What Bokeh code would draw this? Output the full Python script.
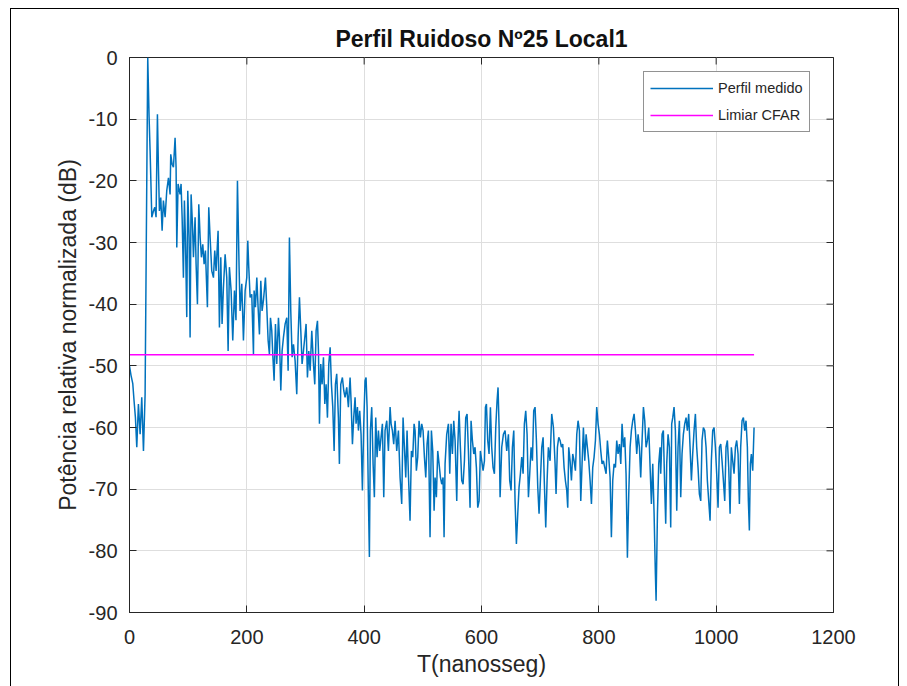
import math

from bokeh.plotting import figure
from bokeh.models import (FixedTicker, Range1d, Legend, LegendItem,
                          PrintfTickFormatter, InlineStyleSheet)
from bokeh.embed import file_html
from bokeh.resources import INLINE

# Measured power-delay profile (time in ns, relative power in dB)
t_ns = [
    0.0, 2.5, 5.6, 7.8, 10.1, 12.4, 15.2, 18.1, 20.9, 23.8, 26.6, 31.1, 33.4, 35.1,
    38.0, 40.8, 43.1, 45.3, 47.6, 49.3, 51.0, 53.3, 55.6, 57.8, 60.7, 63.5, 66.4,
    69.2, 70.3, 72.6, 74.9, 77.7, 79.4, 80.6, 82.8, 86.2, 87.9, 89.7, 91.9, 93.6,
    95.3, 97.6, 99.3, 101.6, 103.3, 105.0, 107.3, 109.0, 111.8, 113.5, 115.8, 118.1,
    120.4, 122.6, 124.9, 127.2, 129.4, 132.8, 135.1, 137.4, 140.2, 143.1, 145.3,
    147.6, 151.0, 153.3, 155.6, 157.8, 160.1, 163.0, 165.8, 168.1, 170.3, 173.2,
    176.0, 178.9, 181.5, 184.0, 186.8, 188.5, 191.4, 194.2, 197.1, 199.9, 201.6,
    203.3, 205.6, 208.4, 211.3, 212.4, 214.7, 217.0, 219.2, 221.5, 223.8, 226.0,
    228.3, 231.7, 234.0, 236.3, 238.5, 240.3, 242.5, 244.2, 246.5, 248.8, 251.0,
    253.9, 255.6, 257.9, 260.1, 262.4, 265.3, 268.1, 270.4, 272.6, 274.9, 277.2,
    279.5, 282.3, 285.1, 287.4, 289.7, 292.0, 294.2, 296.5, 298.8, 301.0, 303.3,
    305.6, 307.9, 310.7, 313.6, 315.8, 318.1, 320.4, 322.1, 323.8, 326.0, 328.3,
    330.6, 332.9, 335.1, 337.4, 339.7, 342.0, 344.2, 346.5, 348.8, 351.0, 353.2,
    356.1, 357.8, 360.1, 362.9, 365.2, 367.4, 370.3, 373.1, 376.0, 377.7, 380.0,
    382.2, 384.5, 386.2, 388.5, 390.2, 392.4, 394.7, 397.0, 399.3, 401.5, 403.2,
    405.0, 407.2, 408.9, 410.6, 412.9, 415.2, 417.4, 419.7, 422.0, 424.3, 426.5,
    428.8, 431.1, 433.4, 435.6, 438.5, 441.3, 444.2, 445.9, 448.1, 450.4, 452.7,
    455.5, 458.4, 461.2, 464.0, 466.3, 468.6, 470.9, 473.1, 475.4, 478.2, 480.5,
    482.8, 485.1, 486.8, 489.0, 491.3, 493.6, 495.9, 498.1, 500.4, 502.7, 505.0,
    507.2, 509.5, 512.3, 514.6, 516.9, 519.2, 520.9, 523.1, 525.4, 527.7, 530.0,
    532.2, 534.5, 536.2, 537.9, 540.7, 543.6, 545.9, 548.1, 550.4, 552.7, 555.0,
    557.8, 559.5, 561.8, 564.0, 566.3, 568.6, 570.9, 573.1, 575.4, 577.7, 580.5,
    582.2, 584.5, 586.8, 589.0, 591.3, 593.6, 595.9, 598.1, 600.4, 602.7, 605.0,
    606.7, 608.4, 610.6, 612.9, 615.2, 617.4, 619.7, 622.0, 624.3, 626.5, 628.2,
    630.0, 631.7, 634.5, 637.3, 640.2, 643.0, 645.9, 648.1, 650.4, 652.7, 655.0,
    657.2, 659.5, 661.8, 664.0, 666.3, 668.6, 670.9, 673.1, 675.4, 677.7, 680.0,
    682.2, 684.5, 686.8, 689.0, 691.3, 693.6, 695.9, 698.1, 700.4, 702.7, 705.0,
    707.2, 709.5, 711.8, 714.0, 716.9, 719.7, 722.6, 725.4, 727.1, 729.4, 731.7,
    734.0, 736.2, 738.5, 740.8, 743.0, 745.3, 747.0, 748.7, 751.0, 753.3, 755.5,
    757.8, 760.1, 762.4, 764.6, 766.9, 769.2, 771.4, 773.7, 776.0, 778.3, 780.5,
    782.8, 785.1, 787.4, 789.6, 791.9, 794.2, 796.4, 798.7, 801.0, 803.3, 805.5,
    807.8, 810.1, 812.4, 814.6, 816.9, 819.2, 821.4, 823.7, 826.0, 828.3, 830.5,
    832.8, 835.1, 837.4, 839.6, 841.9, 844.2, 846.4, 848.7, 851.0, 853.3, 855.5,
    857.8, 860.1, 862.4, 864.6, 866.9, 869.2, 871.4, 873.7, 876.0, 878.3, 880.5,
    882.8, 885.1, 887.4, 889.6, 891.9, 894.2, 896.4, 897.6, 899.9, 902.1, 904.4,
    905.5, 907.8, 910.0, 912.3, 914.0, 915.7, 918.0, 920.3, 922.5, 924.2, 926.0,
    928.2, 930.5, 932.8, 935.0, 937.3, 939.6, 941.8, 944.1, 946.4, 948.7, 950.9,
    953.2, 955.5, 957.8, 960.0, 962.3, 964.6, 966.8, 969.1, 971.4, 973.7, 975.9,
    978.2, 980.5, 982.8, 985.0, 987.3, 989.6, 991.8, 994.1, 996.4, 998.7, 1000.9,
    1003.2, 1005.5, 1007.8, 1010.0, 1012.3, 1014.6, 1016.8, 1019.1, 1021.4, 1023.7,
    1025.9, 1028.2, 1030.5, 1032.8, 1035.0, 1037.3, 1039.6, 1041.8, 1044.1, 1046.4,
    1048.7, 1050.9, 1053.2, 1054.9, 1056.6, 1058.3, 1060.0, 1062.3, 1064.6,
]
perfil_db = [
    -50.0, -51.5, -52.9, -55.7, -58.4, -63.2, -56.2, -61.1, -55.1, -63.8, -54.6, 0.0, -9.7, -15.1,
    -25.9, -24.9, -24.3, -25.9, -9.2, -17.8, -24.9, -22.7, -28.1, -23.2, -25.9, -21.6, -19.5,
    -22.2, -15.7, -17.3, -17.8, -13.0, -17.8, -30.8, -20.5, -22.2, -20.5, -25.9, -35.7, -23.2,
    -29.2, -42.1, -21.6, -29.2, -45.4, -22.2, -27.0, -32.4, -25.9, -33.5, -40.0, -23.8,
    -29.2, -32.4, -30.3, -33.5, -31.3, -40.5, -24.3, -29.2, -34.6, -35.7, -31.3,
    -34.6, -28.1, -43.8, -32.4, -43.2, -37.3, -31.9, -35.7, -47.6, -34.0, -37.8,
    -45.9, -37.8, -42.6, -20.0, -34.0, -41.1, -36.7, -45.9, -37.8, -35.7, -29.7,
    -34.0, -38.9, -38.4, -48.1, -37.8, -40.5, -35.7, -40.5, -44.9, -36.2, -41.1,
    -39.4, -35.7, -40.5, -45.9, -48.1, -42.2, -44.3, -48.1, -52.4, -43.2, -49.7,
    -42.2, -45.4, -54.0, -47.6, -45.4, -43.2, -42.2, -50.8, -29.2, -41.1, -48.6,
    -46.5, -49.2, -54.6, -45.4, -38.9, -44.3, -49.7, -47.6, -45.4, -43.2, -51.9,
    -47.6, -50.8, -44.3, -49.7, -53.0, -44.3, -42.7, -47.6, -59.4, -49.7, -53.0,
    -48.6, -56.2, -53.0, -58.4, -49.7, -47.0, -53.0, -56.7, -63.8, -53.0, -51.3,
    -58.4, -65.9, -53.0, -51.9, -54.0, -55.1, -53.5, -56.7, -51.9, -55.7, -62.7,
    -58.4, -55.1, -59.4, -56.7, -60.5, -57.3, -61.1, -70.2, -59.4, -52.4, -51.9,
    -56.7, -71.3, -81.0, -60.5, -56.7, -65.9, -71.3, -58.4, -64.8, -60.5, -63.8,
    -61.6, -59.4, -71.3, -60.5, -58.9, -63.8, -56.7, -59.4, -60.5, -62.7, -58.9,
    -63.8, -60.5, -68.1, -72.4, -58.4, -63.2, -68.1, -60.5, -67.5, -75.1, -63.8,
    -64.8, -59.4, -60.5, -67.0, -64.8, -58.9, -61.6, -59.4, -60.5, -64.8, -68.1,
    -62.7, -60.5, -77.8, -60.5, -63.8, -73.5, -68.1, -71.3, -63.8, -65.9, -68.1,
    -69.2, -68.1, -77.8, -65.9, -61.1, -59.4, -67.5, -59.4, -64.3, -58.9, -62.1,
    -71.9, -63.2, -57.3, -63.2, -68.6, -69.2, -65.4, -58.4, -57.8, -63.8, -73.0,
    -58.9, -62.1, -64.3, -63.2, -66.5, -73.0, -71.9, -63.8, -65.4, -67.0, -65.4,
    -56.7, -56.2, -62.1, -64.3, -56.7, -63.2, -66.5, -67.5, -60.0, -55.7, -53.5,
    -60.0, -71.3, -63.2, -61.1, -60.5, -63.8, -61.1, -68.6, -70.2, -63.2, -60.5,
    -71.9, -78.9, -74.0, -69.7, -67.5, -64.8, -67.5, -59.4, -57.3, -61.1, -71.3,
    -67.5, -63.2, -65.4, -57.3, -56.7, -62.1, -69.7, -74.0, -68.6, -63.2, -61.6,
    -69.2, -76.2, -68.6, -63.2, -65.4, -57.8, -60.0, -65.9, -70.8, -63.2, -61.6,
    -62.1, -63.2, -62.7, -66.5, -68.6, -70.2, -73.0, -63.2, -65.4, -68.6, -64.3,
    -65.4, -67.0, -61.1, -58.9, -60.5, -71.9, -65.9, -60.0, -65.4, -61.1, -63.2,
    -65.4, -68.6, -72.4, -66.5, -64.8, -62.1, -56.7, -59.4, -61.1, -63.8, -65.9,
    -65.4, -66.5, -67.5, -62.1, -64.8, -68.1, -77.8, -68.6, -65.9, -66.5, -62.1,
    -64.3, -62.7, -65.9, -59.4, -63.2, -61.6, -67.5, -81.1, -70.8, -63.2, -60.5,
    -58.9, -57.8, -60.5, -64.3, -61.1, -63.2, -68.1, -62.1, -56.7, -58.9, -63.2,
    -62.1, -60.0, -66.5, -72.4, -65.9, -74.0, -83.8, -88.1, -74.0, -65.9, -63.2,
    -67.5, -61.1, -60.5, -69.7, -75.6, -65.9, -61.1, -63.2, -76.2, -59.4, -58.4,
    -56.7, -60.5, -73.5, -63.2, -58.9, -71.3, -64.3, -61.1, -59.4, -58.4, -60.5,
    -57.8, -63.2, -68.6, -64.3, -60.5, -57.8, -63.2, -66.5, -70.8, -71.9, -62.1,
    -60.0, -60.5, -63.2, -68.6, -71.9, -75.1, -65.4, -60.5, -60.0, -63.2, -67.5,
    -73.0, -63.2, -62.7, -65.4, -68.6, -71.9, -63.2, -62.1, -66.5, -74.0,
    -63.2, -65.4, -67.5, -63.2, -62.1, -64.3, -72.4, -63.2, -58.9, -58.4,
    -60.5, -58.9, -63.2, -71.9, -76.7, -65.9, -64.3, -67.0, -60.0,
]

# CFAR detection threshold (dB)
limiar_cfar_db = -48.2

x_ticks = [0, 200, 400, 600, 800, 1000, 1200]
y_ticks = [-90, -80, -70, -60, -50, -40, -30, -20, -10, 0]
x_min, x_max = 0, 1200
y_min, y_max = -90, 0

FONT = "Liberation Sans"
DARK = "#262626"
GRID = "#dedede"

p = figure(
    width=907, height=686,
    x_range=Range1d(x_min, x_max), y_range=Range1d(y_min, y_max),
    output_backend="svg", toolbar_location=None,
    min_border_left=129, min_border_right=74,
    min_border_top=57, min_border_bottom=74,
    title="Perfil Ruidoso Nº25 Local1",
    background_fill_color="white", border_fill_color="white",
)

# thin black frame around the whole figure area (page decoration)
p.stylesheets = [InlineStyleSheet(css="""
:host { overflow: hidden; }
:host::after {
  content: "";
  position: absolute;
  left: 10px; top: 8px;
  width: 889px; height: 740px;
  border: 1.5px solid #000;
  box-sizing: border-box;
  pointer-events: none;
}
""")]

# title
p.title.align = "center"
p.title.text_font = FONT
p.title.text_font_size = "23px"
p.title.text_font_style = "bold"
p.title.text_color = "#111111"
p.title.standoff = 11

# axes box
p.outline_line_color = DARK
p.outline_line_width = 1
p.outline_line_alpha = 1.0

for ax in (p.xaxis[0], p.yaxis[0]):
    ax.axis_line_color = DARK
    ax.major_tick_line_color = DARK
    ax.major_tick_in = 7
    ax.major_tick_out = 0
    ax.minor_tick_line_color = None
    ax.formatter = PrintfTickFormatter(format="%d")
    ax.major_label_text_font = FONT
    ax.major_label_text_font_size = "20px"
    ax.major_label_text_color = DARK
    ax.axis_label_text_font = FONT
    ax.axis_label_text_font_size = "23px"
    ax.axis_label_text_font_style = "normal"
    ax.axis_label_text_color = DARK

p.xaxis.ticker = FixedTicker(ticks=x_ticks)
p.yaxis.ticker = FixedTicker(ticks=y_ticks)
p.xaxis.axis_label = "T(nanosseg)"
p.yaxis.axis_label = "Potência relativa normalizada (dB)"
p.xaxis.major_label_standoff = 17
p.yaxis.major_label_standoff = 12
p.xaxis.axis_label_standoff = 4
p.yaxis.axis_label_standoff = 5

# grid
p.xgrid.ticker = FixedTicker(ticks=x_ticks)
p.ygrid.ticker = FixedTicker(ticks=y_ticks)
for g in (p.xgrid[0], p.ygrid[0]):
    g.grid_line_color = GRID
    g.grid_line_width = 1

# inward ticks mirrored on the top and right edges of the box
# (dash markers centred on the edge; the outer half falls outside the frame)
p.scatter(x=x_ticks, y=[y_max] * len(x_ticks), marker="dash", size=14,
          angle=math.pi / 2, line_color=DARK, line_width=1)
p.scatter(x=[x_max] * len(y_ticks), y=y_ticks, marker="dash", size=14,
          line_color=DARK, line_width=1)

# series
r_perfil = p.line(t_ns, perfil_db, line_color="#0072BD", line_width=1.5)
r_limiar = p.line([t_ns[0], t_ns[-1]], [limiar_cfar_db, limiar_cfar_db],
                  line_color="#FF00FF", line_width=1.4)

legend = Legend(
    items=[LegendItem(label="Perfil medido", renderers=[r_perfil]),
           LegendItem(label="Limiar CFAR", renderers=[r_limiar])],
    location=(514, 480),
    label_text_font=FONT, label_text_font_size="14.5px", label_text_color=DARK,
    glyph_width=63, glyph_height=20, label_height=20,
    label_standoff=5, spacing=7, padding=6, margin=0,
    border_line_color=DARK, border_line_width=1,
    background_fill_color="white", background_fill_alpha=1.0,
)
p.add_layout(legend)

open("out.html", "w").write(file_html(p, INLINE))
